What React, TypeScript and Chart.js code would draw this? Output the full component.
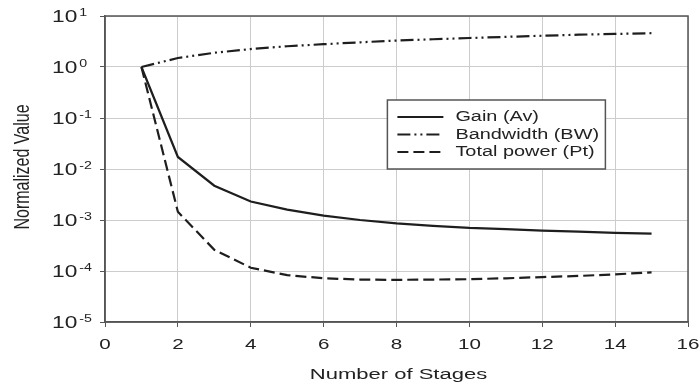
import React, { useEffect, useRef } from "react";
import { Chart, registerables } from "chart.js";

Chart.register(...registerables);

const stages = [1, 2, 3, 4, 5, 6, 7, 8, 9, 10, 11, 12, 13, 14, 15];
const gain = [1, 0.0172, 0.0047, 0.0023, 0.0016, 0.00122, 0.001, 0.00086, 0.00077, 0.0007, 0.00066, 0.00062, 0.00059, 0.00056, 0.00054];
const bandwidth = [1, 1.5, 1.9, 2.25, 2.55, 2.8, 3.05, 3.3, 3.5, 3.7, 3.9, 4.1, 4.3, 4.45, 4.6];
const power = [1, 0.00145, 0.00026, 0.000116, 0.000083, 0.000072, 0.000068, 0.000067, 0.000068, 0.000069, 0.000072, 0.000076, 0.00008, 0.000086, 0.000094];
const seriesNames = ["Gain (Av)", "Bandwidth (BW)", "Total power (Pt)"];
const xTicks = [0, 2, 4, 6, 8, 10, 12, 14, 16];
const yExponents = [1, 0, -1, -2, -3, -4, -5];
const xTitle = "Number of Stages";
const yTitle = "Normalized Value";

const FONT = "'Liberation Sans', Arial, sans-serif";
const LINE = "#1e1e1e";
const TEXT = "#222";
const SX = 1.42;
const dashes: number[][] = [[], [13, 4, 2, 4, 2, 4], [11, 5]];

function stretchedText(ctx: CanvasRenderingContext2D, text: string, x: number, y: number, align: CanvasTextAlign, size: number) {
  ctx.save();
  ctx.translate(x, y);
  ctx.scale(SX, 1);
  ctx.font = `${size}px ${FONT}`;
  ctx.textAlign = align;
  ctx.textBaseline = "middle";
  ctx.fillStyle = TEXT;
  ctx.fillText(text, 0, 0);
  const w = ctx.measureText(text).width * SX;
  ctx.restore();
  return w;
}

export default function App() {
  const ref = useRef<HTMLCanvasElement | null>(null);
  useEffect(() => {
    const canvas = ref.current;
    if (!canvas) return;
    const series = [gain, bandwidth, power];
    const overlay = {
      id: "overlay",
      afterDraw(chart: any) {
        const { ctx, chartArea: a, scales } = chart;
        const ys = scales.y;
        const xs = scales.x;
        ctx.save();
        ctx.strokeStyle = "#555";
        ctx.lineWidth = 1.5;
        ctx.strokeRect(a.left, a.top, a.right - a.left, a.bottom - a.top);
        yExponents.forEach((e) => {
          const py = ys.getPixelForValue(Math.pow(10, e));
          const w = stretchedText(ctx, "10", 52, py + 2, "left", 16);
          stretchedText(ctx, e < 0 ? "-" + String(-e) : String(e), 52 + w + 2, py - 2.5, "left", 10);
        });
        xTicks.forEach((v) => {
          stretchedText(ctx, String(v), xs.getPixelForValue(v), 345, "center", 14.5);
        });
        stretchedText(ctx, xTitle, (a.left + a.right) / 2 + 2, 375, "center", 15.5);
        ctx.save();
        ctx.translate(23, 167);
        ctx.scale(SX, 1);
        ctx.rotate(-Math.PI / 2);
        ctx.font = `16px ${FONT}`;
        ctx.textAlign = "center";
        ctx.textBaseline = "middle";
        ctx.fillStyle = TEXT;
        ctx.fillText(yTitle, 0, 0);
        ctx.restore();
        const lx = xs.getPixelForValue(7.75);
        const ly = 100;
        const lw = 218;
        const lh = 69;
        ctx.fillStyle = "#fff";
        ctx.fillRect(lx, ly, lw, lh);
        ctx.strokeStyle = "#555";
        ctx.lineWidth = 1.5;
        ctx.strokeRect(lx, ly, lw, lh);
        seriesNames.forEach((name, i) => {
          const yy = ly + 17 + i * 17.5;
          ctx.strokeStyle = LINE;
          ctx.lineWidth = 2;
          ctx.setLineDash(dashes[i]);
          ctx.beginPath();
          ctx.moveTo(lx + 10, yy);
          ctx.lineTo(lx + 56, yy);
          ctx.stroke();
          ctx.setLineDash([]);
          stretchedText(ctx, name, lx + 68, yy + 0.5, "left", 14);
        });
        ctx.restore();
      },
    };
    const chart = new Chart(canvas, {
      type: "line",
      data: {
        datasets: series.map((s, i) => ({
          label: seriesNames[i],
          data: s.map((v, j) => ({ x: stages[j], y: v })),
          borderColor: LINE,
          borderWidth: 2.2,
          borderDash: dashes[i],
          pointRadius: 0,
          tension: 0,
          fill: false,
        })),
      },
      options: {
        animation: false,
        responsive: true,
        maintainAspectRatio: false,
        layout: { padding: { left: 0, top: 16, right: 11, bottom: 0 } },
        plugins: { legend: { display: false }, tooltip: { enabled: false } },
        scales: {
          x: {
            type: "linear",
            min: 0,
            max: 16,
            afterBuildTicks: (sc: any) => {
              sc.ticks = xTicks.map((v) => ({ value: v }));
            },
            afterFit: (sc: any) => {
              sc.height = 66;
            },
            grid: { color: "#cccccc", tickColor: "#555", tickLength: 5, lineWidth: 1 },
            border: { color: "#555", width: 1.5 },
            ticks: { display: false },
          },
          y: {
            type: "logarithmic",
            min: 1e-5,
            max: 10,
            afterBuildTicks: (sc: any) => {
              sc.ticks = yExponents.map((e) => ({ value: Math.pow(10, e), major: true }));
            },
            afterFit: (sc: any) => {
              sc.width = 105;
            },
            grid: { color: "#cccccc", tickColor: "#555", tickLength: 5, lineWidth: 1 },
            border: { color: "#555", width: 1.5 },
            ticks: { display: false },
          },
        },
      },
      plugins: [overlay],
    });
    return () => chart.destroy();
  }, []);
  return (
    <div style={{ position: "fixed", left: 0, top: 0, width: 699, height: 388, background: "#fff" }}>
      <canvas ref={ref} />
    </div>
  );
}
